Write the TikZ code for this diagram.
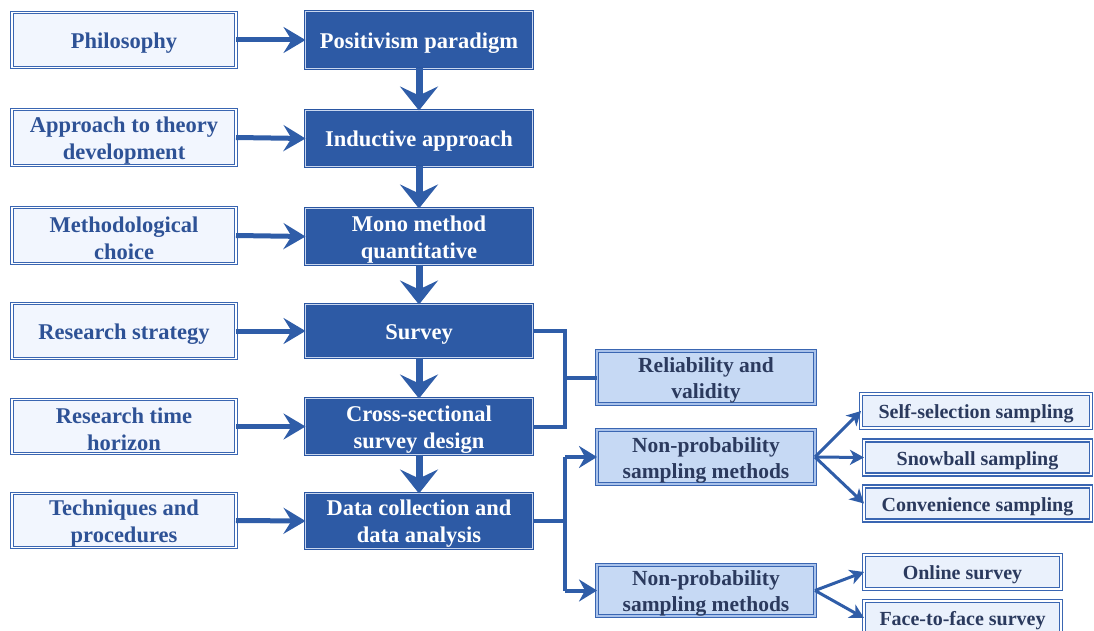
\documentclass[tikz,border=0pt]{standalone}
\usepackage{fontspec}
\setmainfont{Liberation Serif}
\usetikzlibrary{arrows.meta}

\definecolor{dkfill}{HTML}{2D5AA5}
\definecolor{dkedge}{HTML}{2A56A2}
\definecolor{dkinner}{HTML}{C9D7EF}
\definecolor{edgeblue}{HTML}{3A66B2}
\definecolor{palefill}{HTML}{F2F6FE}
\definecolor{midfill}{HTML}{C6D9F4}
\definecolor{midinner}{HTML}{A9C2EA}
\definecolor{lightfill}{HTML}{EAF1FC}
\definecolor{lefttext}{HTML}{2E5296}
\definecolor{righttext}{HTML}{2B3A5E}
\definecolor{arrowc}{HTML}{2F5DA8}

\newcommand\fmain{\fontsize{22.5}{27}\selectfont\bfseries}
\newcommand\fmid{\fontsize{21.5}{26}\selectfont\bfseries}
\newcommand\fsmall{\fontsize{20}{24}\selectfont\bfseries}

\tikzset{
  basebox/.style={inner sep=0pt, outer sep=0pt},
  boxtext/.style={align=center, inner sep=0pt, yshift=-3pt},
  leftbox/.style={basebox, draw=edgeblue, double=white, line width=1pt,
    double distance=1.6pt, fill=palefill, minimum width=224pt,
    label={[boxtext, font=\fmain, text=lefttext]center:#1}},
  darkbox/.style={basebox, draw=dkedge, double=dkinner, line width=1pt,
    double distance=0.8pt, fill=dkfill, minimum width=227pt,
    label={[boxtext, font=\fmain, text=white]center:#1}},
  midbox/.style={basebox, draw=edgeblue, double=midinner, line width=1.5pt,
    double distance=1.2pt, fill=midfill, minimum width=218pt,
    label={[boxtext, font=\fmid, text=righttext]center:#1}},
  leafbox/.style={basebox, draw=edgeblue, double=white, line width=1.5pt,
    double distance=1.2pt, fill=lightfill, minimum height=34pt,
    label={[boxtext, font=\fsmall, text=righttext]center:#1}},
  bigarrow/.style={draw=arrowc, line width=7pt,
    -{Stealth[length=24pt,width=38pt,inset=9pt]}},
  sidearrow/.style={draw=arrowc, line width=5pt,
    -{Stealth[length=22pt,width=26pt,inset=8pt]}},
  linkline/.style={draw=arrowc, line width=4pt},
  brancharrow/.style={draw=arrowc, line width=4pt,
    -{Stealth[length=18pt,width=22pt,inset=6pt]}},
  fanarrow/.style={draw=arrowc, line width=3pt,
    -{Stealth[length=14pt,width=15pt,inset=4pt]}},
}

\begin{document}
\begin{tikzpicture}[x=1pt,y=-1pt]
\useasboundingbox (0,0) rectangle (1094,631);
\clip (0,0) rectangle (1094,631);

% left column: research onion layers
\node[leftbox={Philosophy}, minimum height=55pt] (phil)  at (124,40) {};
\node[leftbox={Approach to theory\\development}, minimum height=56pt] (appr) at (124,137.5) {};
\node[leftbox={Methodological\\choice}, minimum height=56pt] (meth) at (124,235.5) {};
\node[leftbox={Research strategy}, minimum height=55pt] (strat) at (124,331) {};
\node[leftbox={Research time\\horizon}, minimum height=54pt] (time) at (124,426.5) {};
\node[leftbox={Techniques and\\procedures}, minimum height=54pt] (tech) at (124,520.5) {};

% middle column: choices made
\node[darkbox={Positivism paradigm}, minimum height=57pt] (posit) at (419,40) {};
\node[darkbox={Inductive approach}, minimum height=56pt] (induct) at (419,138.5) {};
\node[darkbox={Mono method\\quantitative}, minimum height=56pt] (mono) at (419,236.5) {};
\node[darkbox={Survey}, minimum height=53pt] (survey) at (419,331) {};
\node[darkbox={Cross-sectional\\survey design}, minimum height=56pt] (cross) at (419,426.5) {};
\node[darkbox={Data collection and\\data analysis}, minimum height=55pt] (data) at (419,521) {};

% right column
\node[midbox={Reliability and\\validity}, minimum height=53pt] (relia) at (706,377.5) {};
\node[midbox={Non-probability\\sampling methods}, minimum height=54pt] (npa) at (706,457) {};
\node[midbox={Non-probability\\sampling methods}, minimum height=51pt] (npb) at (706,590.5) {};

% leaves
\node[leafbox={Self-selection sampling}, minimum width=230pt] (self) at (976,411) {};
\node[leafbox={Snowball sampling}, minimum width=227pt] (snow) at (977.5,457.5) {};
\node[leafbox={Convenience sampling}, minimum width=227pt] (conv) at (977.5,503.5) {};
\node[leafbox={Online survey}, minimum width=197pt] (online) at (962.5,572) {};
\node[leafbox={Face-to-face survey}, minimum width=197pt] (face) at (962.5,618) {};

% layer to choice
\foreach \a/\b in {phil/posit, appr/induct, meth/mono, strat/survey, time/cross, tech/data}
  \draw[sidearrow] (\a.east) -- (\b.west);

% main chain
\foreach \a/\b in {posit/induct, induct/mono, mono/survey, survey/cross, cross/data}
  \draw[bigarrow] (\a.south) -- (\b.north);

% survey bracket to reliability
\coordinate (jt) at (565,331);
\coordinate (jb) at (565,426.5);
\coordinate (jm) at (565,377.5);
\draw[linkline, line join=miter] (survey.east) -- (jt) -- (jb) -- (cross.east);
\draw[linkline] (jm) -- (relia.west);

% data collection branches
\coordinate (dj)  at (565,521);
\coordinate (dja) at (565,457);
\coordinate (djb) at (565,590.5);
\draw[linkline] (data.east) -- (dj);
\draw[linkline, line join=miter] (dja) -- (djb);
\draw[brancharrow] (dja) -- (npa.west);
\draw[brancharrow] (djb) -- (npb.west);

% sampling fans
\draw[fanarrow] (npa.east) -- (self.west);
\draw[fanarrow] (npa.east) -- (snow.west);
\draw[fanarrow] (npa.east) -- (conv.west);
\draw[fanarrow] (npb.east) -- (online.west);
\draw[fanarrow] (npb.east) -- (face.west);
\end{tikzpicture}
\end{document}
